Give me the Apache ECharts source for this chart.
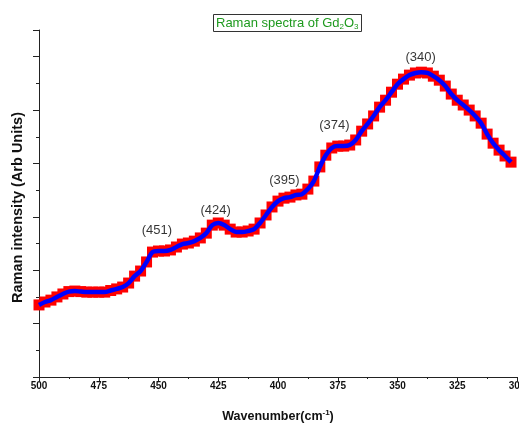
<!DOCTYPE html>
<html>
<head>
<meta charset="utf-8">
<script src="https://cdn.jsdelivr.net/npm/echarts@6/dist/echarts.min.js"></script>
<style>html,body{margin:0;padding:0;background:#fff}#c{width:519px;height:423px}</style>
</head>
<body>
<div id="c"></div>
<script>
var wavenumbers = [500,497.5,495,492.5,490,487.5,485,482.5,480,477.5,475,472.5,470,467.5,465,462.5,460,457.5,455,452.5,450,447.5,445,442.5,440,437.5,435,432.5,430,427.5,425,422.5,420,417.5,415,412.5,410,407.5,405,402.5,400,397.5,395,392.5,390,387.5,385,382.5,380,377.5,375,372.5,370,367.5,365,362.5,360,357.5,355,352.5,350,347.5,345,342.5,340,337.5,335,332.5,330,327.5,325,322.5,320,317.5,315,312.5,310,307.5,305,302.5];
var intensity = [2.70,2.81,2.88,3.00,3.11,3.20,3.22,3.20,3.18,3.18,3.18,3.18,3.24,3.30,3.37,3.52,3.78,3.97,4.31,4.68,4.72,4.72,4.76,4.87,4.98,5.02,5.09,5.21,5.39,5.69,5.77,5.69,5.54,5.43,5.43,5.47,5.54,5.77,6.07,6.37,6.59,6.70,6.74,6.82,6.85,7.04,7.34,7.87,8.31,8.58,8.65,8.65,8.69,8.88,9.21,9.48,9.78,10.11,10.37,10.67,10.97,11.16,11.31,11.39,11.42,11.39,11.27,11.12,10.90,10.60,10.37,10.19,10.00,9.78,9.51,9.10,8.76,8.50,8.28,8.05];
var peakLabels = ["(451)","(424)","(395)","(374)","(340)"];
var peakLabelX = [450.7,426.1,397.3,376.4,340.3];
var peakLabelY = [5.50,6.25,7.38,9.44,11.96];
var xTicks = {min:300, max:500, interval:25};
var yRange = {min:0, max:13};

var pts = wavenumbers.map(function(w,i){return [w,intensity[i]];});
var labelPts = peakLabels.map(function(t,i){return {value:[peakLabelX[i],peakLabelY[i]], name:t};});

var FF = 'Liberation Sans, Arial';
var chart = echarts.init(document.getElementById('c'));
chart.setOption({
  animation:false,
  backgroundColor:'#fff',
  title:{
    text:'{a|Raman spectra of Gd}{s|2}{a|O}{s|3}',
    left:213, top:13,
    padding:[2,3,1,3],
    borderColor:'#333', borderWidth:1,
    textStyle:{
      fontWeight:'normal',
      rich:{
        a:{fontFamily:FF,fontSize:13,fontWeight:'normal',color:'#1e9a1e',lineHeight:17},
        s:{fontFamily:FF,fontSize:8,fontWeight:'normal',color:'#1e9a1e',lineHeight:17,padding:[7,0,0,0]}
      }
    }
  },
  grid:{left:39,right:2,top:30,bottom:46,containLabel:false,outerBoundsMode:'none'},
  xAxis:{
    type:'value', min:xTicks.min, max:xTicks.max, interval:xTicks.interval, inverse:true,
    name:'{a|Wavenumber(cm}{p|-1}{a|)}', nameLocation:'middle', nameGap:32,
    nameTextStyle:{rich:{
      a:{fontFamily:FF,fontWeight:'bold',fontSize:12.5,color:'#111',lineHeight:15},
      p:{fontFamily:FF,fontWeight:'bold',fontSize:8,color:'#111',lineHeight:15,padding:[0,0,7,0]}
    }},
    axisLine:{show:true,lineStyle:{color:'#222',width:1}},
    axisTick:{show:true,length:4,lineStyle:{color:'#222'}},
    minorTick:{show:true,splitNumber:2,length:2,lineStyle:{color:'#222'}},
    axisLabel:{margin:4,fontFamily:FF,fontWeight:'bold',fontSize:10,color:'#111'},
    splitLine:{show:false}
  },
  yAxis:[{
    type:'value', min:yRange.min, max:yRange.max, interval:1,
    name:'Raman intensity (Arb Units)', nameLocation:'middle', nameGap:14,
    nameTextStyle:{fontFamily:FF,fontWeight:'bold',fontSize:14.5,color:'#111',padding:[0,0,0,-8]},
    axisLine:{show:true,lineStyle:{color:'#222',width:1}},
    axisTick:{show:true,length:3,lineStyle:{color:'#222'}},
    axisLabel:{show:false},
    splitLine:{show:false}
  },{
    type:'value', min:yRange.min, max:yRange.max, interval:2, position:'left',
    axisLine:{show:false},
    axisTick:{show:true,length:6,lineStyle:{color:'#222'}},
    axisLabel:{show:false},
    splitLine:{show:false}
  }],
  series:[
    {type:'scatter', data:pts, symbol:'rect', symbolSize:11, itemStyle:{color:'#ff0000',opacity:1}, z:2, silent:true},
    {type:'line', data:pts, showSymbol:false, smooth:0.3, lineStyle:{color:'#0000ff',width:4.5}, z:3, silent:true},
    {type:'scatter', data:labelPts, symbolSize:0, z:4, silent:true,
      label:{show:true,position:'inside',formatter:'{b}',fontFamily:FF,fontSize:13,color:'#000',textBorderWidth:0}}
  ]
});
</script>
</body>
</html>
